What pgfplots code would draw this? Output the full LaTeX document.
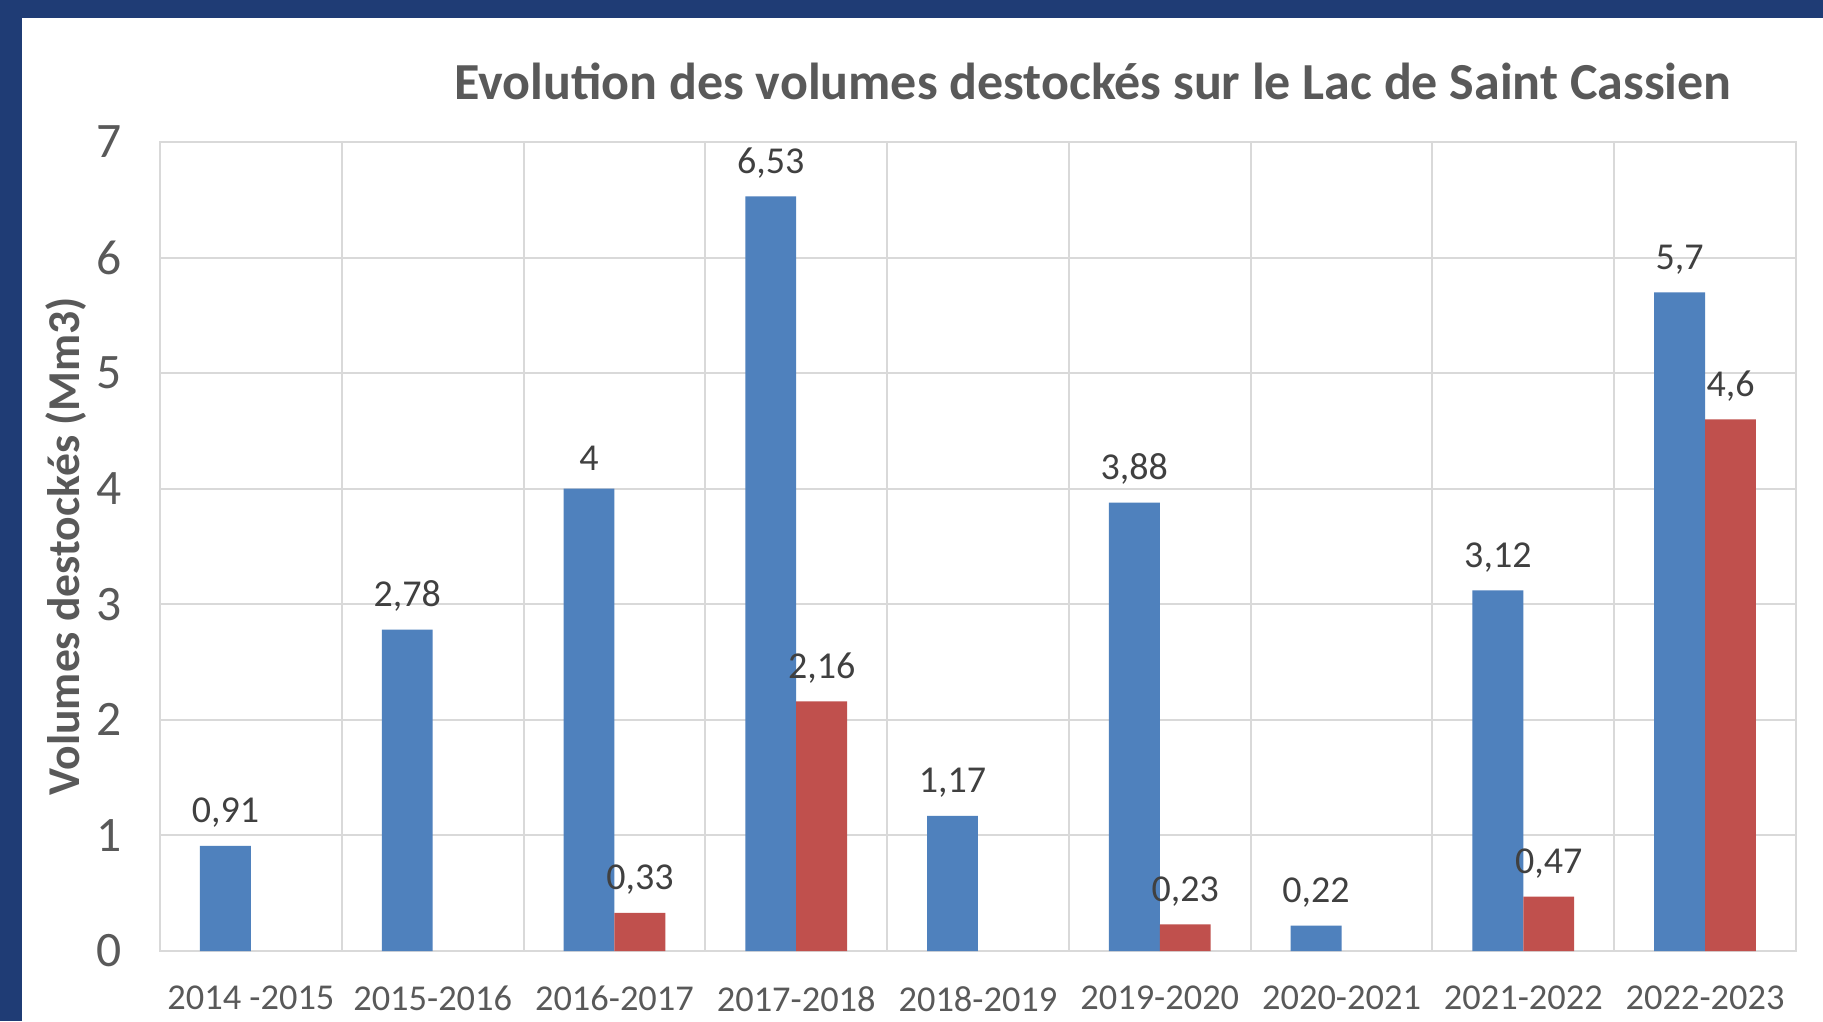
\documentclass[border=0pt]{standalone}
\usepackage{pgfplots}
\pgfplotsset{compat=1.18}
\usepackage{fontspec}
\setmainfont{Carlito}
\definecolor{framecol}{HTML}{1F3C75}
\definecolor{barblue}{HTML}{4F81BD}
\definecolor{barred}{HTML}{C0504D}
\definecolor{txtgray}{HTML}{595959}
\definecolor{lblgray}{HTML}{404040}
\definecolor{gridgray}{HTML}{D9D9D9}
\begin{document}
\begin{tikzpicture}
\path[use as bounding box] (-40pt,-17.5pt) rectangle (415.75pt,237.75pt);
\fill[framecol] (-40pt,-17.5pt) rectangle (415.75pt,237.75pt);
\fill[white] (-34.5pt,-17.5pt) rectangle (415.75pt,233.25pt);
\begin{axis}[
  at={(0,0)}, anchor=south west,
  scale only axis, width=409pt, height=202.25pt,
  xmin=-0.5, xmax=8.5, ymin=0, ymax=7,
  ybar, bar width=0.28,
  xtick={0,...,8},
  xticklabels={2014 -2015,2015-2016,2016-2017,2017-2018,2018-2019,2019-2020,2020-2021,2021-2022,2022-2023},
  minor xtick={0.5,1.5,...,7.5},
  xminorgrids, ymajorgrids,
  major x tick style={draw=none}, minor x tick style={draw=none},
  ytick={0,...,7}, major y tick style={draw=none},
  grid style={gridgray, line width=0.5pt},
  minor grid style={gridgray, line width=0.5pt},
  axis line style={gridgray, line width=0.6pt},
  xticklabel style={font=\fontsize{9.1}{10}\selectfont, text=txtgray, yshift=-1pt},
  yticklabel style={font=\fontsize{12.4}{14}\selectfont, text=txtgray, xshift=-6pt},
  /pgf/number format/assume math mode=true,
  /pgf/number format/use comma,
  nodes near coords,
  nodes near coords style={font=\fontsize{9.5}{11}\selectfont, text=lblgray, yshift=1pt, /pgf/number format/assume math mode=true, /pgf/number format/use comma},
  clip=false,
]
\addplot[fill=barblue, draw=none, bar shift=-0.14] coordinates {
 (0,0.91) (1,2.78) (2,4) (3,6.53) (4,1.17) (5,3.88) (6,0.22) (7,3.12) (8,5.7)};
\addplot[fill=barred, draw=none, bar shift=0.14] coordinates {
 (2,0.33) (3,2.16) (5,0.23) (7,0.47) (8,4.6)};
\end{axis}
\node[font=\bfseries\fontsize{13}{15}\selectfont, text=txtgray] at (233.25pt,217.5pt) {Evolution des volumes destockés sur le Lac de Saint Cassien};
\node[font=\bfseries\fontsize{11.4}{13}\selectfont, text=txtgray, rotate=90] at (-23.5pt,101.25pt) {Volumes destockés (Mm3)};
\end{tikzpicture}
\end{document}
